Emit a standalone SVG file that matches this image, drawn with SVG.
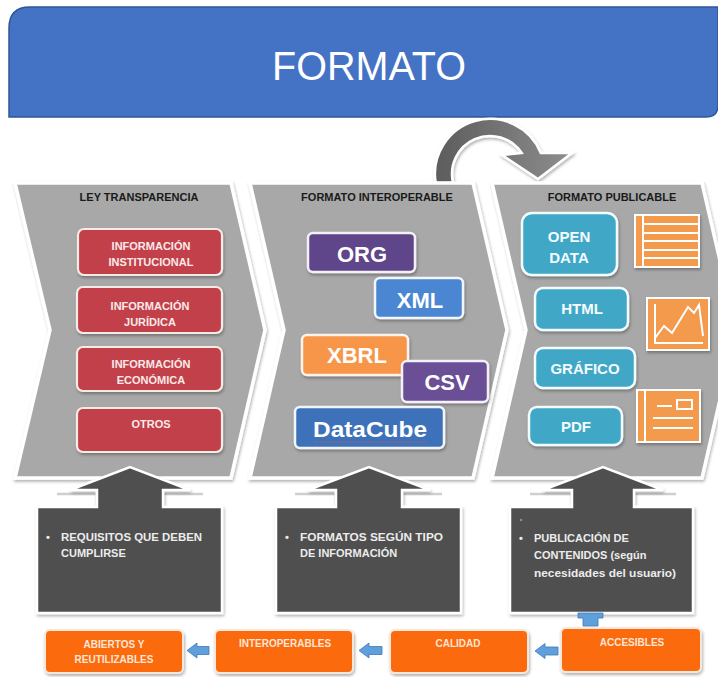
<svg xmlns="http://www.w3.org/2000/svg" width="718" height="677" viewBox="0 0 718 677">
<defs>
<filter id="sh" x="-10%" y="-10%" width="130%" height="140%">
<feDropShadow dx="1" dy="2" stdDeviation="1.5" flood-color="#000" flood-opacity="0.3"/>
</filter>
<linearGradient id="arcg" x1="0" y1="0" x2="1" y2="0">
<stop offset="0" stop-color="#5c5c5c"/>
<stop offset="1" stop-color="#8e8e8e"/>
</linearGradient>
<style>
.t{font-family:"Liberation Sans",Arial,sans-serif;font-weight:bold}
.hdr{font-size:11px;fill:#1a1a1a;text-anchor:middle}
.red{fill:#c2404a;stroke:#f6ece6;stroke-width:2.2}
.redt{font-size:11px;fill:#fbeaea;text-anchor:middle}
.chev{fill:#a8a8a8;stroke:#fff;stroke-width:3.5}
.big{font-size:22px;fill:#fff;text-anchor:middle}
.teal{fill:#3fa8c6;stroke:#f2fbfd;stroke-width:2.5}
.tealt{font-size:15px;fill:#f4fbff;text-anchor:middle}
.dark{fill:#4f4f4f;stroke:#fff;stroke-width:2.5}
.dt{font-size:11px;fill:#ececec}
.org{fill:#fb6a10;stroke:#f8e8dc;stroke-width:2}
.ot{font-size:10px;fill:#fde6d6;text-anchor:middle}
.blu{fill:#5f9fdc;stroke:#3f78b8;stroke-width:0.8}
.ic{fill:#f39a4d;stroke:#fff;stroke-width:2}
.icl{stroke:#fff;stroke-width:2;fill:none}
.shl{fill:none;stroke:#cfcfcf;stroke-width:2.5}
</style>
</defs>
<rect width="718" height="677" fill="#fff"/>

<g id="title">
<path d="M9,117 V28 Q9,7 30,7 H718 V105 Q718,117 706,117 Z" fill="#4472c4" stroke="#2f5597" stroke-width="1.5"/>
<text x="369" y="80" font-family="Liberation Sans,Arial,sans-serif" font-size="40" fill="#fff" text-anchor="middle" textLength="194" lengthAdjust="spacingAndGlyphs">FORMATO</text>
</g>

<g id="connectors">
<path id="curved-arrow" d="M435.7,183 A55,55 0 0 1 540.8,153 L572,153 L538,179 L502,155 L521.7,153 A38,38 0 0 0 453.1,183 Z" fill="url(#arcg)" stroke="#fff" stroke-width="2.5" filter="url(#sh)"/>
</g>

<g id="chevron-ley">
<path class="chev" filter="url(#sh)" d="M15,183 H231 L265,330 L231,478 H15 L50,330 Z"/>
<text class="t hdr" x="139" y="201">LEY TRANSPARENCIA</text>
</g>
<g id="chevron-interoperable">
<path class="chev" filter="url(#sh)" d="M250,183 H473 L507,330 L473,478 H250 L284,330 Z"/>
<text class="t hdr" x="377" y="201">FORMATO INTEROPERABLE</text>
</g>
<g id="chevron-publicable">
<path class="chev" filter="url(#sh)" d="M492,183 H702 L736,330 L702,478 H492 L526,330 Z"/>
<text class="t hdr" x="612" y="201">FORMATO PUBLICABLE</text>
</g>

<g id="info-institucional">
<rect class="red" filter="url(#sh)" x="78" y="229" width="144" height="46" rx="6"/>
<text class="t redt" x="151" y="250">INFORMACIÓN</text>
<text class="t redt" x="151" y="266">INSTITUCIONAL</text>
</g>
<g id="info-juridica">
<rect class="red" filter="url(#sh)" x="77" y="287" width="145" height="46" rx="6"/>
<text class="t redt" x="150" y="310">INFORMACIÓN</text>
<text class="t redt" x="150" y="326">JURÍDICA</text>
</g>
<g id="info-economica">
<rect class="red" filter="url(#sh)" x="77" y="347" width="145" height="44" rx="6"/>
<text class="t redt" x="151" y="368">INFORMACIÓN</text>
<text class="t redt" x="151" y="384">ECONÓMICA</text>
</g>
<g id="otros">
<rect class="red" filter="url(#sh)" x="77" y="408" width="145" height="44" rx="6"/>
<text class="t redt" x="151" y="428">OTROS</text>
</g>

<g id="org">
<rect filter="url(#sh)" x="308" y="233" width="107" height="39" rx="5" fill="#5f4589" stroke="#f4f0f8" stroke-width="2.5"/>
<text class="t big" x="362" y="262">ORG</text>
</g>
<g id="xml">
<rect filter="url(#sh)" x="375" y="278" width="88" height="40" rx="5" fill="#4c86d2" stroke="#f2f6fc" stroke-width="2.5"/>
<text class="t big" x="420" y="308">XML</text>
</g>
<g id="xbrl">
<rect filter="url(#sh)" x="302" y="335" width="106" height="40" rx="5" fill="#f7954a" stroke="#fdf3ea" stroke-width="2.5"/>
<text class="t big" x="357" y="363">XBRL</text>
</g>
<g id="csv">
<rect filter="url(#sh)" x="402" y="361" width="86" height="41" rx="5" fill="#6b4f96" stroke="#f4f0f8" stroke-width="2.5"/>
<text class="t big" x="447" y="390">CSV</text>
</g>
<g id="datacube">
<rect filter="url(#sh)" x="295" y="407" width="149" height="41" rx="5" fill="#3e72ba" stroke="#f2f6fc" stroke-width="2.5"/>
<text class="t big" x="370" y="437" textLength="114" lengthAdjust="spacingAndGlyphs">DataCube</text>
<line x1="314" y1="442" x2="427" y2="442" stroke="#d9534f" stroke-width="1.2" stroke-dasharray="1.5 1.5"/>
</g>

<g id="open-data">
<rect class="teal" filter="url(#sh)" x="522" y="213" width="95" height="62" rx="10"/>
<text class="t tealt" x="569" y="242">OPEN</text>
<text class="t tealt" x="569" y="263">DATA</text>
</g>
<g id="html">
<rect class="teal" filter="url(#sh)" x="535" y="288" width="93" height="42" rx="8"/>
<text class="t tealt" x="582" y="314">HTML</text>
</g>
<g id="grafico">
<rect class="teal" filter="url(#sh)" x="535" y="348" width="100" height="40" rx="8"/>
<text class="t tealt" x="585" y="374">GRÁFICO</text>
</g>
<g id="pdf">
<rect class="teal" filter="url(#sh)" x="529" y="407" width="93" height="38" rx="8"/>
<text class="t tealt" x="576" y="432">PDF</text>
</g>

<g id="icon-list">
<rect class="ic" filter="url(#sh)" x="635" y="215" width="64" height="52"/>
<line class="icl" x1="643" y1="215" x2="643" y2="267"/>
<line class="icl" x1="643" y1="224" x2="699" y2="224"/>
<line class="icl" x1="643" y1="233" x2="699" y2="233"/>
<line class="icl" x1="643" y1="241" x2="699" y2="241"/>
<line class="icl" x1="643" y1="250" x2="699" y2="250"/>
<line class="icl" x1="643" y1="258" x2="699" y2="258"/>
</g>
<g id="icon-chart">
<rect class="ic" filter="url(#sh)" x="647" y="298" width="62" height="52"/>
<polyline class="icl" points="655,304 655,343 703,343"/>
<polyline class="icl" points="655,338 664,326 672,333 688,307 694,313 699,305 703,336"/>
</g>
<g id="icon-layout">
<rect class="ic" filter="url(#sh)" x="637" y="390" width="63" height="52"/>
<line class="icl" x1="645" y1="390" x2="645" y2="442"/>
<rect x="677" y="400" width="15" height="9" fill="none" stroke="#fff" stroke-width="2"/>
<line class="icl" x1="657" y1="406" x2="672" y2="406"/>
<line class="icl" x1="653" y1="418" x2="693" y2="418"/>
<line class="icl" x1="653" y1="428" x2="693" y2="428"/>
</g>

<g id="requisitos">
<polyline class="shl" points="57,494 97,494 97,507"/>
<polyline class="shl" points="203,494 163,494 163,507"/>
<path class="dark" filter="url(#sh)" d="M37,507 H97 V490 H70 L130,467 L190,490 H163 V507 H222 V613 H37 Z"/>
<text class="t dt" x="46" y="541">•</text>
<text class="t dt" x="61" y="541" textLength="141" lengthAdjust="spacingAndGlyphs">REQUISITOS QUE DEBEN</text>
<text class="t dt" x="61" y="557">CUMPLIRSE</text>
</g>
<g id="formatos-tipo">
<polyline class="shl" points="295,494 336,494 336,507"/>
<polyline class="shl" points="442,494 402,494 402,507"/>
<path class="dark" filter="url(#sh)" d="M276,507 H336 V490 H308 L369,467 L430,490 H402 V507 H461 V613 H276 Z"/>
<text class="t dt" x="285" y="541">•</text>
<text class="t dt" x="300" y="541" textLength="143" lengthAdjust="spacingAndGlyphs">FORMATOS SEGÚN TIPO</text>
<text class="t dt" x="300" y="557">DE INFORMACIÓN</text>
</g>
<g id="publicacion">
<polyline class="shl" points="530,494 572,494 572,507"/>
<polyline class="shl" points="676,494 634,494 634,507"/>
<path class="dark" filter="url(#sh)" d="M510,507 H572 V490 H543 L603,467 L663,490 H634 V507 H693 V613 H510 Z"/>
<circle cx="521" cy="520" r="1.3" fill="#8a8a8a"/>
<text class="t dt" x="519" y="542">•</text>
<text class="t dt" x="534" y="542">PUBLICACIÓN DE</text>
<text class="t dt" x="534" y="559">CONTENIDOS (según</text>
<text class="t dt" x="534" y="577" textLength="142" lengthAdjust="spacingAndGlyphs">necesidades del usuario)</text>
</g>

<g id="abiertos">
<rect class="org" filter="url(#sh)" x="45" y="630" width="138" height="43" rx="5"/>
<text class="t ot" x="114" y="648">ABIERTOS Y</text>
<text class="t ot" x="114" y="663">REUTILIZABLES</text>
</g>
<g id="interoperables">
<rect class="org" filter="url(#sh)" x="215" y="630" width="138" height="43" rx="5"/>
<text class="t ot" x="285" y="647">INTEROPERABLES</text>
</g>
<g id="calidad">
<rect class="org" filter="url(#sh)" x="390" y="630" width="138" height="43" rx="5"/>
<text class="t ot" x="458" y="647">CALIDAD</text>
</g>
<g id="accesibles">
<rect class="org" filter="url(#sh)" x="561" y="628" width="140" height="44" rx="5"/>
<text class="t ot" x="632" y="646">ACCESIBLES</text>
</g>

<g id="connectors-blue">
<path class="blu" d="M578,613 H603 V618 H598 V626 H583 V618 H578 Z"/>
<path class="blu" d="M187,650.5 L197,643 V646.5 H209 V654.5 H197 V658 Z"/>
<path class="blu" d="M359,650.5 L369,643 V646.5 H382 V654.5 H369 V658 Z"/>
<path class="blu" d="M535,651 L545,643.5 V647 H558 V655 H545 V658.5 Z"/>
</g>
</svg>
